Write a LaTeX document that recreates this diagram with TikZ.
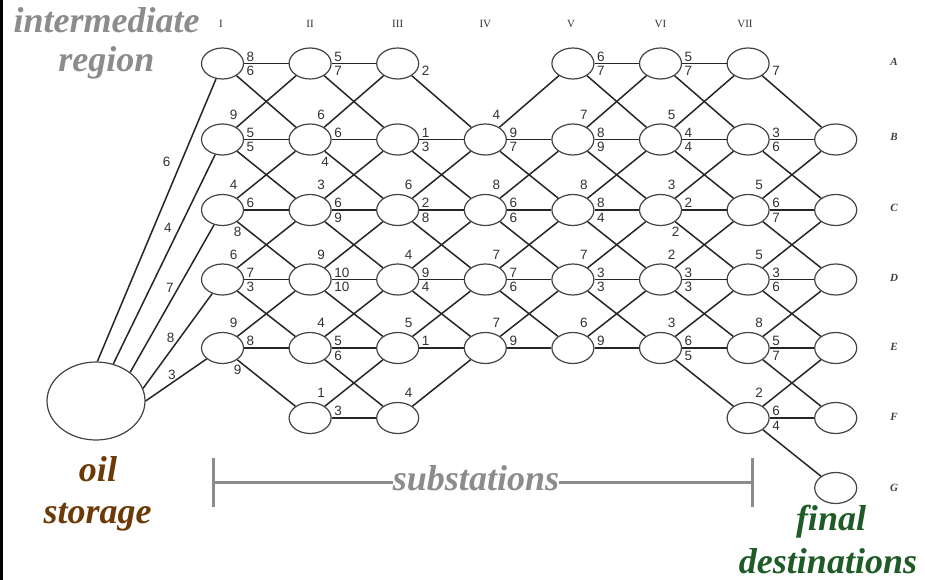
\documentclass[tikz,border=0pt]{standalone}
\usepackage{fontspec}
\setmainfont{Liberation Serif}
\newfontfamily\labfont{Liberation Sans}
\usetikzlibrary{shapes.geometric}
\definecolor{txtgray}{HTML}{8C8C8C}
\definecolor{txtbrown}{HTML}{6B3A06}
\definecolor{txtgreen}{HTML}{1E5B26}
\definecolor{linecol}{HTML}{262626}
\definecolor{nodecol}{HTML}{444444}
\def\yA{63.5}\def\yB{139.5}\def\yC{210}\def\yD{279.5}\def\yE{348}\def\yF{418}\def\yG{488}
\tikzset{
  st/.style={ellipse, draw=nodecol, line width=1.2pt, minimum width=42pt, minimum height=31pt, inner sep=0pt},
  bigst/.style={ellipse, draw=nodecol, line width=1.2pt, minimum width=98pt, minimum height=78pt, inner sep=0pt},
  edge/.style={draw=linecol, line width=1.5pt},
  lab/.style={font=\labfont\fontsize{13.5}{13.5}\selectfont, text=black!80, inner sep=0pt},
  lur/.style={anchor=west, xshift=24pt, yshift=7pt},
  llr/.style={anchor=west, xshift=24pt, yshift=-7.5pt},
  lup/.style={anchor=center, xshift=11pt, yshift=25pt},
  ldn/.style={anchor=center, xshift=15pt, yshift=-22pt},
  coltxt/.style={font=\fontsize{11}{11}\selectfont, text=black!80, inner sep=0pt},
  rowtxt/.style={font=\bfseries\itshape\fontsize{11}{11}\selectfont, text=black!75, inner sep=0pt},
  big/.style={font=\bfseries\itshape\fontsize{36}{36}\selectfont, anchor=base, inner sep=0pt},
  brk/.style={draw=txtgray, line width=3pt}
}
\begin{document}
\begin{tikzpicture}[x=1pt,y=-1pt]
\useasboundingbox (0,0) rectangle (925,580);
\fill[white] (0,0) rectangle (925,580);
\fill[black] (0,0) rectangle (2.5,580);
% column headings
\foreach \t/\x in {I/221,II/310.1,III/397.7,IV/485.3,V/571,VI/660.5,VII/745}
  \node[coltxt] (col\t) at (\x,24) {\t};
% row headings
\foreach \r/\y in {A/61.7,B/136.7,C/208,D/278,E/346.7,F/416.7,G/488}
  \node[rowtxt] (row\r) at (894,\y) {\r};
% nodes
\node[bigst] (S) at (96,401) {};
\foreach \r in {A,B,C,D,E} \node[st] (n1\r) at (222.5,\csname y\r\endcsname) {};
\foreach \r in {A,B,C,D,E,F} \node[st] (n2\r) at (310.1,\csname y\r\endcsname) {};
\foreach \r in {A,B,C,D,E,F} \node[st] (n3\r) at (397.7,\csname y\r\endcsname) {};
\foreach \r in {B,C,D,E} \node[st] (n4\r) at (485.3,\csname y\r\endcsname) {};
\foreach \r in {A,B,C,D,E} \node[st] (n5\r) at (572.9,\csname y\r\endcsname) {};
\foreach \r in {A,B,C,D,E} \node[st] (n6\r) at (660.5,\csname y\r\endcsname) {};
\foreach \r in {A,B,C,D,E,F} \node[st] (n7\r) at (748.1,\csname y\r\endcsname) {};
\foreach \r in {B,C,D,E,F,G} \node[st] (n8\r) at (835.7,\csname y\r\endcsname) {};
% storage edges
\draw[edge] (S.88) -- (n1A);
\draw[edge] (S.65) -- (n1B);
\draw[edge] (S.40) -- (n1C);
\draw[edge] (S.15) -- (n1D);
\draw[edge] (S.0) -- (n1E);
\node[lab] (s6) at (166.7,161.7) {6};
\node[lab] (s4) at (168,228) {4};
\node[lab] (s7) at (170,288) {7};
\node[lab] (s8) at (170.7,338) {8};
\node[lab] (s3) at (172,375) {3};
% network edges
\foreach \a/\b/\l/\p in {
  1A/2A/8/lur, 1A/2B/6/llr,
  1B/2A/9/lup, 1B/2B/5/lur, 1B/2C/5/llr,
  1C/2B/4/lup, 1C/2C/6/lur, 1C/2D/8/ldn,
  1D/2C/6/lup, 1D/2D/7/lur, 1D/2E/3/llr,
  1E/2D/9/lup, 1E/2E/8/lur, 1E/2F/9/ldn,
  2A/3A/5/lur, 2A/3B/7/llr,
  2B/3A/6/lup, 2B/3B/6/lur, 2B/3C/4/ldn,
  2C/3B/3/lup, 2C/3C/6/lur, 2C/3D/9/llr,
  2D/3C/9/lup, 2D/3D/10/lur, 2D/3E/10/llr,
  2E/3D/4/lup, 2E/3E/5/lur, 2E/3F/6/llr,
  2F/3E/1/lup, 2F/3F/3/lur,
  3A/4B/2/llr,
  3B/4B/1/lur, 3B/4C/3/llr,
  3C/4B/6/lup, 3C/4C/2/lur, 3C/4D/8/llr,
  3D/4C/4/lup, 3D/4D/9/lur, 3D/4E/4/llr,
  3E/4D/5/lup, 3E/4E/1/lur,
  3F/4E/4/lup,
  4B/5A/4/lup, 4B/5B/9/lur, 4B/5C/7/llr,
  4C/5B/8/lup, 4C/5C/6/lur, 4C/5D/6/llr,
  4D/5C/7/lup, 4D/5D/7/lur, 4D/5E/6/llr,
  4E/5D/7/lup, 4E/5E/9/lur,
  5A/6A/6/lur, 5A/6B/7/llr,
  5B/6A/7/lup, 5B/6B/8/lur, 5B/6C/9/llr,
  5C/6B/8/lup, 5C/6C/8/lur, 5C/6D/4/llr,
  5D/6C/7/lup, 5D/6D/3/lur, 5D/6E/3/llr,
  5E/6D/6/lup, 5E/6E/9/lur,
  6A/7A/5/lur, 6A/7B/7/llr,
  6B/7A/5/lup, 6B/7B/4/lur, 6B/7C/4/llr,
  6C/7B/3/lup, 6C/7C/2/lur, 6C/7D/2/ldn,
  6D/7C/2/lup, 6D/7D/3/lur, 6D/7E/3/llr,
  6E/7D/3/lup, 6E/7E/6/lur, 6E/7F/5/llr,
  7A/8B/7/llr,
  7B/8B/3/lur, 7B/8C/6/llr,
  7C/8B/5/lup, 7C/8C/6/lur, 7C/8D/7/llr,
  7D/8C/5/lup, 7D/8D/3/lur, 7D/8E/6/llr,
  7E/8D/8/lup, 7E/8E/5/lur, 7E/8F/7/llr,
  7F/8E/2/lup, 7F/8F/6/lur, 7F/8G/4/llr}
{
  \draw[edge] (n\a) -- (n\b);
  \node[lab,\p] at (n\a) {\l};
}
% captions
\node[big, text=txtgray] (t1) at (106.5,33) {intermediate};
\node[big, text=txtgray] (t2) at (106.5,72) {region};
\node[big, text=txtbrown] (t3) at (98,481) {oil};
\node[big, text=txtbrown] (t4) at (97.5,523) {storage};
\node[big, text=txtgray] (sub) at (476,490) {substations};
\node[big, text=txtgreen] (t5) at (831,530) {final};
\node[big, text=txtgreen] (t6) at (828,573) {destinations};
% bracket
\coordinate (bl) at (213,482);
\coordinate (br) at (752,482);
\draw[brk] (213,458) -- (213,507);
\draw[brk] (752,458) -- (752,507);
\draw[brk] (bl) -- (sub.west |- bl);
\draw[brk] (sub.east |- br) -- (br);
\end{tikzpicture}
\end{document}
